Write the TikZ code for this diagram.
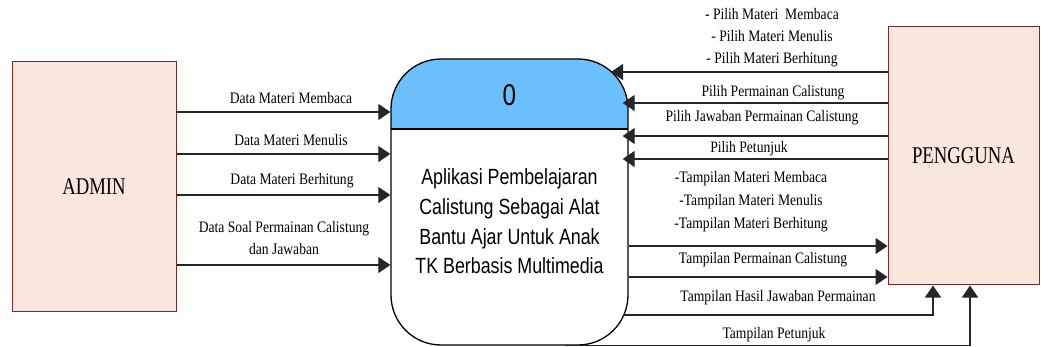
\documentclass[tikz,border=0pt]{standalone}
\usepackage{fontspec}
\setmainfont{Liberation Serif}
\newfontfamily\lblfont[FakeStretch=0.85]{Liberation Serif}
\newfontfamily\entfont[FakeStretch=0.78]{Liberation Serif}
\newfontfamily\procfont[FakeStretch=0.81]{Liberation Sans}
\usetikzlibrary{arrows.meta}
\definecolor{entfill}{RGB}{249,230,221}
\definecolor{entborder}{RGB}{122,40,40}
\definecolor{procblue}{RGB}{107,191,250}
\tikzset{
  entity/.style={draw=entborder, fill=entfill, line width=1pt, inner sep=0pt,
    font=\entfont\fontsize{24}{28}\selectfont},
  process/.style={draw=black, line width=1.3pt, rounded corners=50pt, inner sep=0pt,
    minimum width=237pt, minimum height=286pt},
  flow/.style={draw=black!85, line width=1.2pt, -{Triangle[length=12pt,width=16pt]}},
  lbl/.style={font=\lblfont\fontsize{16}{22}\selectfont, align=center, inner sep=0pt}
}
\begin{document}
\begin{tikzpicture}[x=1pt,y=-1pt]
\useasboundingbox (0,0) rectangle (1041,347);
% entities
\node[entity, minimum width=164pt, minimum height=249pt] (admin) at (94,186.5) {ADMIN};
\node[entity, minimum width=151pt, minimum height=258pt] (peng) at (963.5,156) {PENGGUNA};
% process
\node[process, path picture={
    \fill[procblue, sharp corners] ([xshift=-2pt,yshift=2pt]path picture bounding box.north west) rectangle ([xshift=2pt,yshift=-70pt]path picture bounding box.north east);
    \draw[line width=1.3pt, sharp corners] ([yshift=-70pt]path picture bounding box.north west) -- ([yshift=-70pt]path picture bounding box.north east);
  }] (p) at (509.5,202) {};
\node[font=\procfont\fontsize{30}{32}\selectfont, inner sep=0pt] (pnum) at (509.5,95) {0};
\node[font=\procfont\fontsize{22}{29.7}\selectfont, align=center, inner sep=0pt] (ptext) at (509.5,221.5)
  {Aplikasi Pembelajaran\\Calistung Sebagai Alat\\Bantu Ajar Untuk Anak\\TK Berbasis Multimedia};
% coordinates on curved border
\coordinate (ptop) at (611,72);
\coordinate (phasil) at (623,315);
\coordinate (ppet) at (565,345.5);
% ADMIN -> process
\draw[flow] (admin.east |- 0,112) -- (p.west |- 0,112);
\draw[flow] (admin.east |- 0,154) -- (p.west |- 0,154);
\draw[flow] (admin.east |- 0,195) -- (p.west |- 0,195);
\draw[flow] (admin.east |- 0,265) -- (p.west |- 0,265);
\node[lbl] (l1) at (291,98) {Data Materi Membaca};
\node[lbl] (l2) at (291,140) {Data Materi Menulis};
\node[lbl] (l3) at (292,181) {Data Materi Berhitung};
\node[lbl] (l4) at (284,238.5) {Data Soal Permainan Calistung\\dan Jawaban};
% PENGGUNA -> process
\draw[flow] (peng.west |- ptop) -- (ptop);
\draw[flow, shorten >=-6pt] (peng.west |- 0,103) -- (p.east |- 0,103);
\draw[flow, shorten >=-6pt] (peng.west |- 0,136) -- (p.east |- 0,136);
\draw[flow, shorten >=-6pt] (peng.west |- 0,159) -- (p.east |- 0,159);
\node[lbl] (r1) at (772,38) {- Pilih Materi\ \ Membaca\\- Pilih Materi Menulis\\- Pilih Materi Berhitung};
\node[lbl] (r2) at (773,93) {Pilih Permainan Calistung};
\node[lbl] (r3) at (762,118) {Pilih Jawaban Permainan Calistung};
\node[lbl] (r4) at (749,149) {Pilih Petunjuk};
% process -> PENGGUNA
\draw[flow] (p.east |- 0,246) -- (peng.west |- 0,246);
\draw[flow] (p.east |- 0,277) -- (peng.west |- 0,277);
\draw[flow] (phasil) -| ([xshift=-30.5pt]peng.south);
\draw[flow] (ppet) -| ([xshift=6.5pt]peng.south);
\node[lbl, font=\lblfont\fontsize{16}{23}\selectfont] (b1) at (751,202) {-Tampilan Materi Membaca\\-Tampilan Materi Menulis\\-Tampilan Materi Berhitung};
\node[lbl] (b2) at (763,260) {Tampilan Permainan Calistung};
\node[lbl] (b3) at (778,298) {Tampilan Hasil Jawaban Permainan};
\node[lbl] (b4) at (774,335) {Tampilan Petunjuk};
\end{tikzpicture}
\end{document}
